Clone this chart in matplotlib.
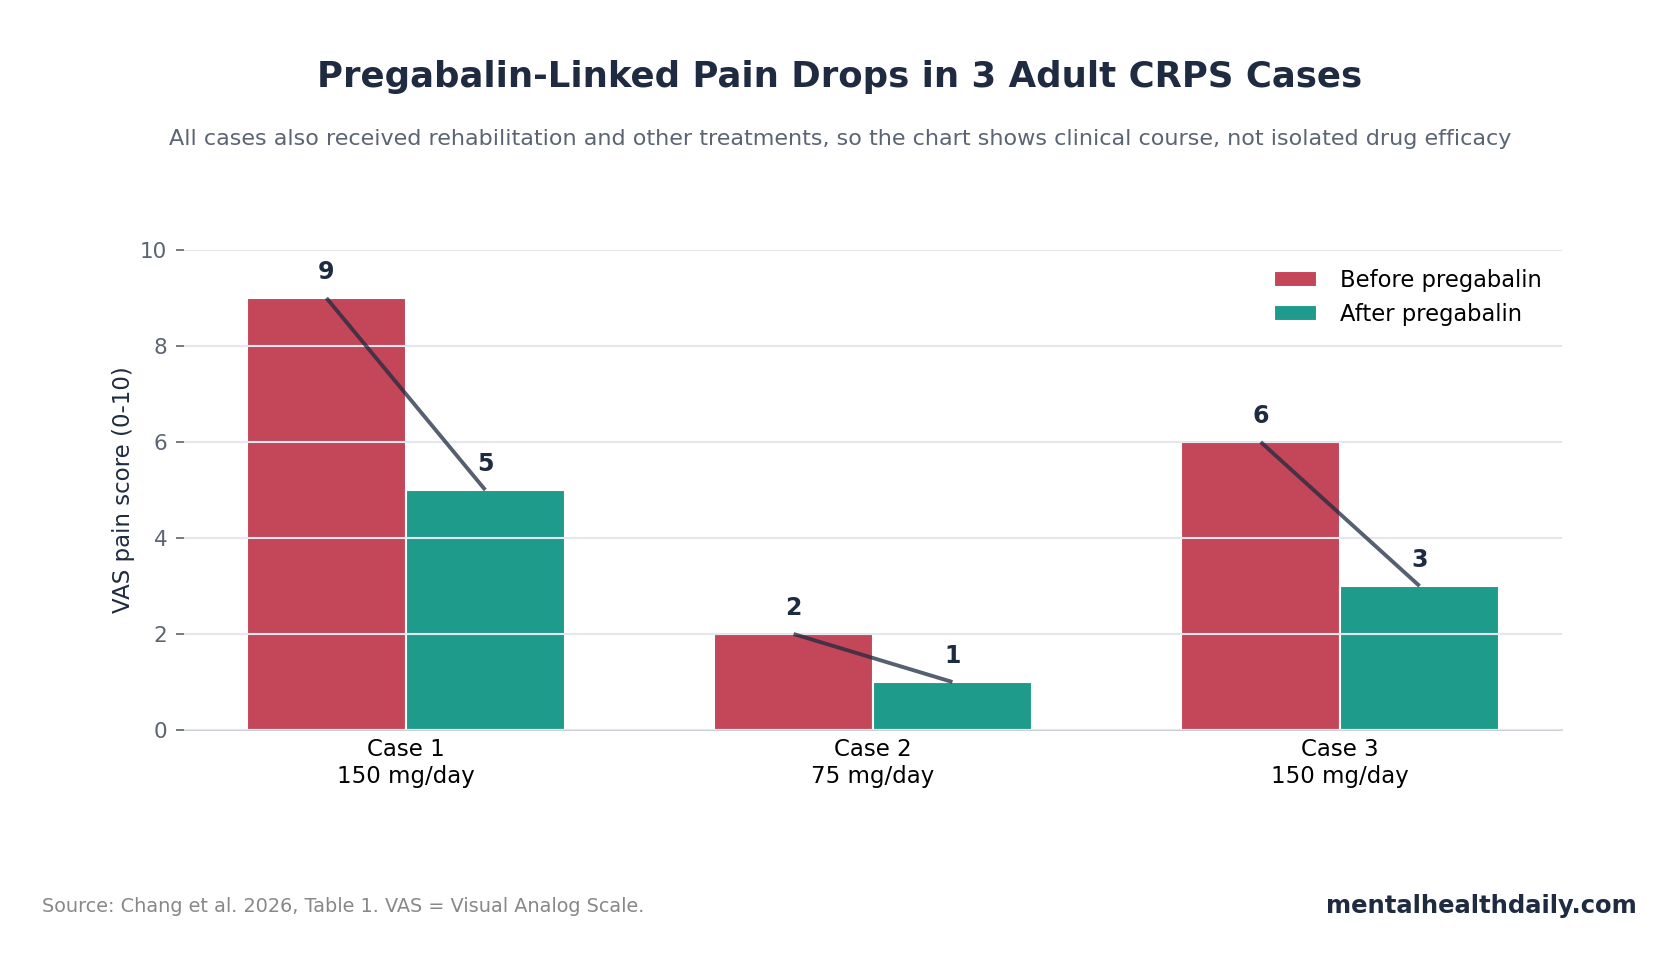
import numpy as np
import matplotlib.pyplot as plt

cases = ['Case 1\n150 mg/day', 'Case 2\n75 mg/day', 'Case 3\n150 mg/day']
before = [9, 2, 6]
after = [5, 1, 3]

RED = '#c44659'
TEAL = '#1f9b8b'
NAVY = '#1e2b40'

fig = plt.figure(figsize=(16.8, 9.6), dpi=100)
ax = fig.add_axes([184 / 1680, 1 - 730 / 960, (1562 - 184) / 1680, 480 / 960])

x = np.arange(len(cases))
w = 0.34
off = 0.17
ax.bar(x - off, before, w, color=RED, edgecolor='white', linewidth=1.5, label='Before pregabalin', zorder=2)
ax.bar(x + off, after, w, color=TEAL, edgecolor='white', linewidth=1.5, label='After pregabalin', zorder=2)

for i in range(len(cases)):
    ax.plot([x[i] - off, x[i] + off], [before[i], after[i]], color=NAVY, alpha=0.75,
            linewidth=2.8, zorder=4, solid_capstyle='butt')
    ax.text(x[i] - off, before[i] + 0.3, str(before[i]), ha='center', va='bottom',
            fontsize=17, fontweight='bold', color=NAVY, zorder=5)
    ax.text(x[i] + off, after[i] + 0.3, str(after[i]), ha='center', va='bottom',
            fontsize=17, fontweight='bold', color=NAVY, zorder=5)

ax.set_xlim(-0.475, 2.475)
ax.set_ylim(0, 10)
ax.set_yticks([0, 2, 4, 6, 8, 10])
ax.yaxis.grid(True, color='#e4e7ee', linewidth=1.5, zorder=3)
ax.set_axisbelow(False)
ax.set_xticks(x)
ax.set_xticklabels(cases, fontsize=16.5, color='black')
ax.tick_params(axis='x', length=0, pad=6)
ax.tick_params(axis='y', labelsize=15.5, labelcolor='#5b6472', color='#5b6472', length=6, width=1.2, pad=6)
ax.set_ylabel('VAS pain score (0-10)', fontsize=16.5, color=NAVY, labelpad=4)
for s in ['top', 'right', 'left']:
    ax.spines[s].set_visible(False)
ax.spines['bottom'].set_color('#c0c6d0')
ax.spines['bottom'].set_linewidth(1.2)

leg = ax.legend(loc='upper right', frameon=False, fontsize=16.3, handlelength=1.9,
                handleheight=0.7, handletextpad=1.0, bbox_to_anchor=(1.0, 1.003))

fig.text(0.5, 1 - 77 / 960, 'Pregabalin-Linked Pain Drops in 3 Adult CRPS Cases',
         ha='center', va='center', fontsize=25.6, fontweight='bold', color=NAVY)
fig.text(0.5, 1 - 139 / 960, 'All cases also received rehabilitation and other treatments, so the chart shows clinical course, not isolated drug efficacy',
         ha='center', va='center', fontsize=16, color='#5b6472')
fig.text(42 / 1680, 1 - 906 / 960, 'Source: Chang et al. 2026, Table 1. VAS = Visual Analog Scale.',
         ha='left', va='center', fontsize=13.9, color='#888888')
fig.text(1637 / 1680, 1 - 906 / 960, 'mentalhealthdaily.com', ha='right', va='center',
         fontsize=17.5, fontweight='bold', color=NAVY)

fig.savefig('out.png', dpi=100)
